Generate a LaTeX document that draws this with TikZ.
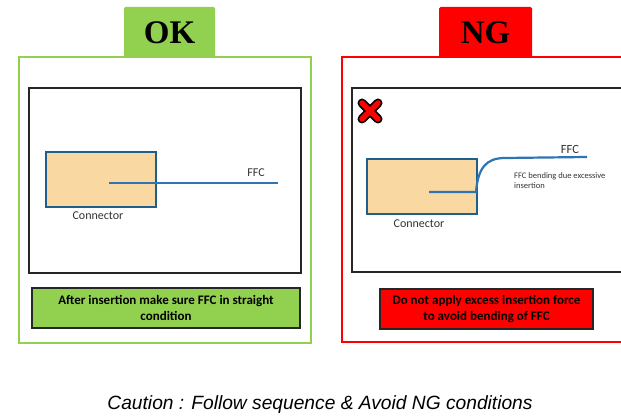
\documentclass[tikz,border=0pt]{standalone}
\usepackage{fontspec}
\setmainfont{Carlito}
\newfontfamily\tabfont{Liberation Serif}
\newfontfamily\cautionfont{Liberation Sans}
\definecolor{okgreen}{HTML}{92D050}
\definecolor{ngred}{HTML}{FF0000}
\definecolor{peach}{HTML}{FAD8A2}
\definecolor{connedge}{HTML}{1F5F8B}
\definecolor{ffcblue}{HTML}{2E75B6}
\begin{document}
\begin{tikzpicture}[x=1pt,y=-1pt,
  frameok/.style={draw=okgreen,line width=1.6pt},
  frameng/.style={draw=ngred,line width=1.6pt},
  inner/.style={draw=black!85,line width=2pt},
  tabbox/.style={rounded corners=1.5pt,inner sep=0pt},
  capbox/.style={draw=black!85,line width=2pt,inner sep=0pt,align=center,
    font=\fontsize{13}{16}\selectfont\bfseries},
  connbox/.style={draw=connedge,line width=1.5pt,fill=peach,inner sep=0pt},
  ffc/.style={draw=ffcblue,line width=2.2pt},
  lbl/.style={inner sep=0pt,text=black!80},
  tablbl/.style={inner sep=0pt,text=black,font=\tabfont\fontsize{33}{33}\selectfont\bfseries}]
\clip (0,0) rectangle (621,419);
\fill[white] (0,0) rectangle (621,419);

% ---------- OK panel ----------
\fill[okgreen,tabbox] (124,7) rectangle (215,58);
\node[tablbl] (oklabel) at (169.5,33) {OK};
\draw[frameok] (19,57) rectangle (311,343);
\draw[inner] (29,88) rectangle (301,273);
\node[connbox,minimum width=110pt,minimum height=55pt] (connL) at (101,179.5) {};
\node[lbl,font=\fontsize{12}{14}\selectfont] (connLlabel) at (98,216) {Connector};
\coordinate (ffcLstart) at (109,183);
\coordinate (ffcLend) at (278,183);
\draw[ffc] (ffcLstart) -- (ffcLend);
\node[lbl,font=\fontsize{12}{14}\selectfont] (ffcLlabel) at (256,173) {FFC};
\node[capbox,fill=okgreen,minimum width=268pt,minimum height=40pt] (capL) at (166,308)
  {After insertion make sure FFC in straight\\condition};

% ---------- NG panel ----------
\fill[ngred,tabbox] (439,7) rectangle (532,58);
\node[tablbl] (nglabel) at (485.5,33) {NG};
\draw[frameng] (342,57) rectangle (660,342);
\draw[inner] (352,88) rectangle (660,272);
\node[connbox,minimum width=110pt,minimum height=55pt] (connR) at (422,186.5) {};
\node[lbl,font=\fontsize{12}{14}\selectfont] (connRlabel) at (419,224) {Connector};
\coordinate (ffcRstart) at (429,192);
\coordinate (ffcRbend) at (476,192);
\coordinate (ffcRtop) at (505,158);
\coordinate (ffcRend) at (587,157);
\draw[ffc] (ffcRstart) -- (ffcRbend) .. controls (478,168) and (486,158) .. (ffcRtop) -- (ffcRend);
\node[lbl,font=\fontsize{12.5}{14}\selectfont] (ffcRlabel) at (570,149) {FFC};
\node[lbl,anchor=north west,align=left,font=\fontsize{8.5}{10}\selectfont] (bendnote) at (514,172)
  {FFC bending due excessive\\insertion};
\node[capbox,fill=ngred,minimum width=213pt,minimum height=40pt] (capR) at (486.5,309)
  {Do not apply excess insertion force\\to avoid bending of FFC};

% red cross
\coordinate (xa) at (362,103);
\coordinate (xb) at (378,119);
\coordinate (xc) at (362,119);
\coordinate (xd) at (378,103);
\draw[line width=9pt,line cap=round,black] (xa) -- (xb) (xc) -- (xd);
\draw[line width=5.5pt,line cap=round,ngred] (xa) -- (xb) (xc) -- (xd);

% ---------- caution ----------
\node[lbl,text=black,font=\cautionfont\fontsize{19.2}{21}\selectfont\itshape] (caution) at (320,405)
  {Caution : Follow sequence \& Avoid NG conditions};
\end{tikzpicture}
\end{document}
